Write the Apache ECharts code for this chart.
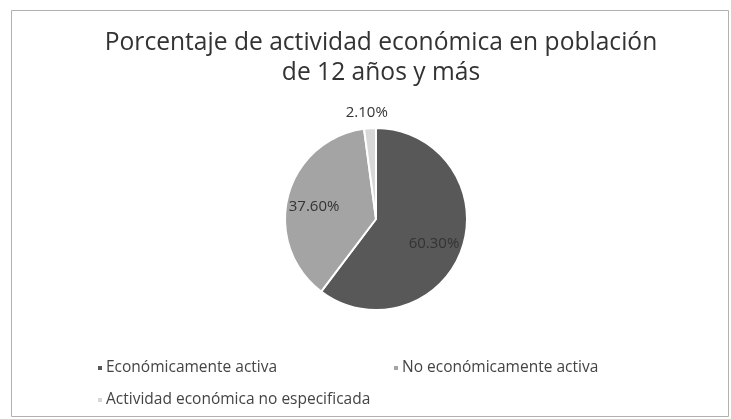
<!DOCTYPE html>
<html>
<head>
<meta charset="utf-8">
<script src="https://cdn.jsdelivr.net/npm/echarts@6/dist/echarts.min.js"></script>
<style>
  html, body { margin: 0; padding: 0; background: #fff; }
  #chart { width: 731px; height: 419px; }
</style>
</head>
<body>
<div id="chart"></div>
<script>
// Población de 12 años y más por condición de actividad económica (%)
const categories = [
  'Económicamente activa',
  'No económicamente activa',
  'Actividad económica no especificada'
];
const percentages = [60.30, 37.60, 2.10];
const sliceColors = ['#585858', '#a4a4a4', '#d8d8d8'];

const FONT = '"Open Sans", "Liberation Sans", sans-serif';

// nudges for the value labels (the small slice gets its label above the pie)
const labelOffsets = [[12, 9], [-15, 0], [-6, -58]];

const chart = echarts.init(document.getElementById('chart'), null, { renderer: 'canvas' });

const seriesData = categories.map((name, i) => ({
  name: name,
  value: percentages[i],
  itemStyle: { color: sliceColors[i] },
  label: { offset: labelOffsets[i] }
}));

function legendFor(i, left, top) {
  return {
    data: [categories[i]],
    left: left,
    top: top,
    orient: 'horizontal',
    icon: 'rect',
    itemWidth: 6,
    itemHeight: 6,
    itemGap: 5,
    selectedMode: false,
    textStyle: { fontFamily: FONT, fontSize: 15.5, color: '#444', padding: [0, 0, 0, -2] }
  };
}

chart.setOption({
  backgroundColor: '#ffffff',
  animation: false,
  title: {
    text: 'Porcentaje de actividad económica en población\nde 12 años y más',
    left: 376,
    top: 23,
    textAlign: 'center',
    textStyle: {
      fontFamily: FONT,
      fontSize: 24.6,
      fontWeight: 'normal',
      color: '#333',
      lineHeight: 30,
      align: 'center'
    }
  },
  legend: [
    legendFor(0, 91, 355),
    legendFor(1, 387, 355),
    legendFor(2, 91, 387)
  ],
  graphic: [{
    type: 'rect',
    shape: { x: 11.5, y: 10.5, width: 717, height: 406 },
    style: { fill: 'none', stroke: '#b0b0b0', lineWidth: 1 },
    silent: true
  }],
  series: [{
    type: 'pie',
    center: [376, 219],
    radius: [0, 91],
    startAngle: 90,
    clockwise: true,
    data: seriesData,
    itemStyle: { borderColor: '#ffffff', borderWidth: 2 },
    label: {
      show: true,
      position: 'inside',
      formatter: p => p.value.toFixed(2) + '%',
      fontFamily: FONT,
      fontSize: 15,
      color: '#333'
    },
    labelLine: { show: false },
    emphasis: { disabled: true }
  }]
});
</script>
</body>
</html>
